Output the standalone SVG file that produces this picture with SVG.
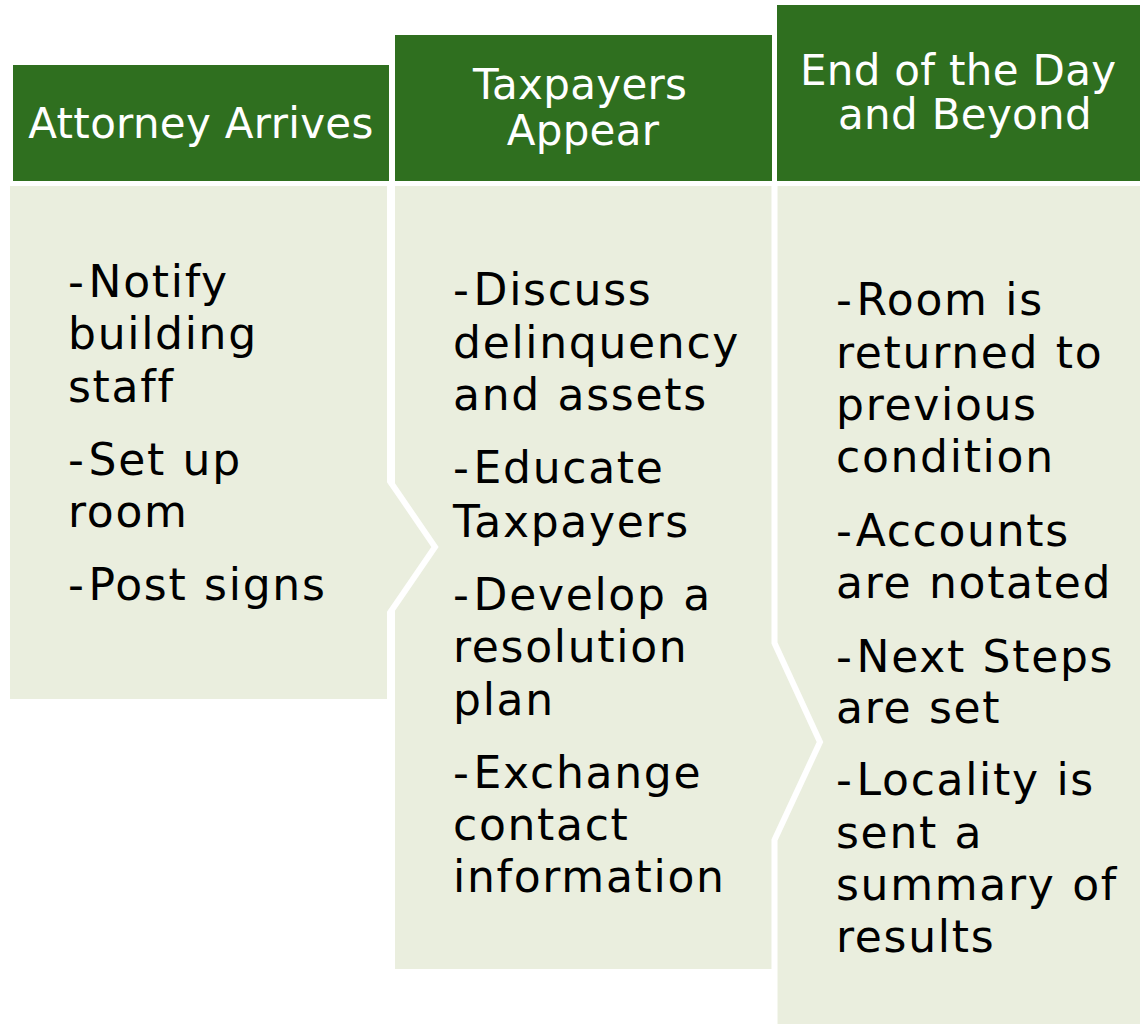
<svg xmlns="http://www.w3.org/2000/svg" width="1140" height="1024" viewBox="0 0 1140 1024">
  <style>
    .head { fill: #2f6f1f; }
    .body { fill: #eaeede; }
    .htxt { font-family: "DejaVu Sans", Verdana, sans-serif; font-size: 42px; fill: #ffffff; text-anchor: middle; letter-spacing: 0.3px; }
    .btxt { font-family: "DejaVu Sans", Verdana, sans-serif; font-size: 44px; fill: #000000; letter-spacing: 1.7px; word-spacing: 1px; }
    .gap { fill: none; stroke: #ffffff; stroke-width: 6; stroke-linejoin: miter; }
  </style>
  <rect width="1140" height="1024" fill="#ffffff"/>

  <!-- Step 1 -->
  <g id="step-attorney-arrives">
    <polygon class="body" points="10,186 387,186 387,482 436,547 387,612 387,699 10,699"/>
    <rect class="head" x="13" y="65" width="376" height="116"/>
    <text class="htxt" x="201" y="138">Attorney Arrives</text>
    <text class="btxt">
      <tspan x="68" y="297">-</tspan><tspan dx="3">Notify</tspan>
      <tspan x="68" y="349">building</tspan>
      <tspan x="68" y="402">staff</tspan>
      <tspan x="68" y="475">-</tspan><tspan dx="3">Set up</tspan>
      <tspan x="68" y="527">room</tspan>
      <tspan x="68" y="600">-</tspan><tspan dx="3">Post signs</tspan>
    </text>
  </g>

  <!-- Step 2 -->
  <g id="step-taxpayers-appear">
    <polygon class="body" points="395,186 772,186 772,643 821,742 772,840 772,969 395,969"/>
    <rect class="head" x="395" y="35" width="377" height="146"/>
    <text class="htxt">
      <tspan x="587" y="99">Taxpayers</tspan>
      <tspan x="583" y="145">Appear</tspan>
    </text>
    <text class="btxt">
      <tspan x="453" y="305">-</tspan><tspan dx="3">Discuss</tspan>
      <tspan x="453" y="358">delinquency</tspan>
      <tspan x="453" y="410">and assets</tspan>
      <tspan x="453" y="483">-</tspan><tspan dx="3">Educate</tspan>
      <tspan x="453" y="537">Taxpayers</tspan>
      <tspan x="453" y="610">-</tspan><tspan dx="3">Develop a</tspan>
      <tspan x="453" y="662">resolution</tspan>
      <tspan x="453" y="715">plan</tspan>
      <tspan x="453" y="788">-</tspan><tspan dx="3">Exchange</tspan>
      <tspan x="453" y="840">contact</tspan>
      <tspan x="453" y="892">information</tspan>
    </text>
  </g>

  <!-- Step 3 -->
  <g id="step-end-of-day">
    <rect class="body" x="777" y="186" width="376" height="850"/>
    <rect class="head" x="777" y="5" width="376" height="176"/>
    <text class="htxt">
      <tspan x="965" y="85">End of the Day</tspan>
      <tspan x="965" y="129">and Beyond</tspan>
    </text>
    <text class="btxt">
      <tspan x="836" y="315">-</tspan><tspan dx="3">Room is</tspan>
      <tspan x="836" y="368">returned to</tspan>
      <tspan x="836" y="420">previous</tspan>
      <tspan x="836" y="472">condition</tspan>
      <tspan x="836" y="546">-</tspan><tspan dx="3">Accounts</tspan>
      <tspan x="836" y="598">are notated</tspan>
      <tspan x="836" y="672">-</tspan><tspan dx="3">Next Steps</tspan>
      <tspan x="836" y="723">are set</tspan>
      <tspan x="836" y="795">-</tspan><tspan dx="3">Locality is</tspan>
      <tspan x="836" y="848">sent a</tspan>
      <tspan x="836" y="900">summary of</tspan>
      <tspan x="836" y="952">results</tspan>
    </text>
  </g>

  <!-- Chevron separators between the steps -->
  <g id="connectors">
    <polyline class="gap" points="390.5,186 390.5,482 435,547 390.5,612 390.5,699"/>
    <polyline class="gap" points="774.5,186 774.5,643 820,742 774.5,840 774.5,1024"/>
  </g>
</svg>
